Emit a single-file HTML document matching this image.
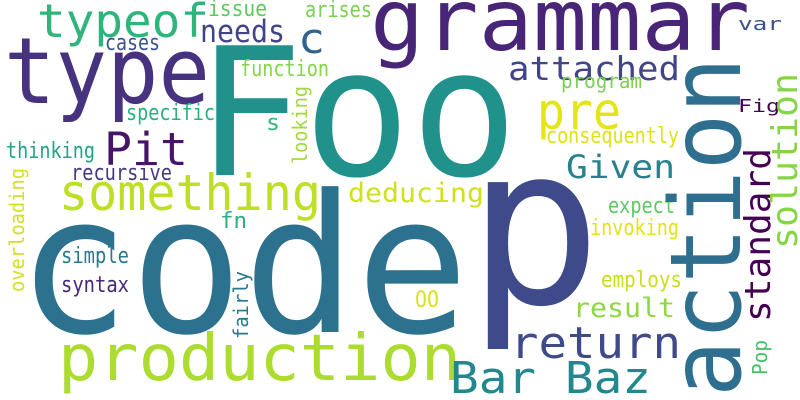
<!DOCTYPE html>
<html><head><meta charset="utf-8"><style>
html,body{margin:0;padding:0;background:#fff;}
svg{display:block;}
text{font-family:"DejaVu Sans Mono","Liberation Mono",monospace;}
</style></head><body>
<svg width="800" height="400" viewBox="0 0 800 400" xmlns="http://www.w3.org/2000/svg">
<rect width="800" height="400" fill="#fff"/>
<g>
<text x="4" y="103" font-size="92" fill="#46327e" textLength="206" lengthAdjust="spacingAndGlyphs">type</text>
<text x="37" y="37" font-size="46" fill="#2fb47c" textLength="172" lengthAdjust="spacingAndGlyphs">typeof</text>
<text x="370" y="50" font-size="86" fill="#482576" textLength="380" lengthAdjust="spacingAndGlyphs">grammar</text>
<text x="196" y="175" font-size="178" fill="#21918c" textLength="322" lengthAdjust="spacingAndGlyphs">Foo</text>
<text x="17" y="332" font-size="192" fill="#2c728e" textLength="452" lengthAdjust="spacingAndGlyphs">code</text>
<text x="467" y="303" font-size="221" fill="#3e4a89" textLength="135" lengthAdjust="spacingAndGlyphs">p</text>
<text x="58" y="380" font-size="64" fill="#addc30" textLength="403" lengthAdjust="spacingAndGlyphs">production</text>
<text x="59" y="210" font-size="50" fill="#bddf26" textLength="262" lengthAdjust="spacingAndGlyphs">something</text>
<text x="104" y="165" font-size="45" fill="#481467" textLength="84" lengthAdjust="spacingAndGlyphs">Pit</text>
<text x="200" y="42" font-size="31" fill="#414487" textLength="85" lengthAdjust="spacingAndGlyphs">needs</text>
<text x="298" y="53" font-size="42" fill="#33638d" textLength="27" lengthAdjust="spacingAndGlyphs">c</text>
<text x="208" y="16" font-size="22" fill="#5ec962" textLength="59" lengthAdjust="spacingAndGlyphs">issue</text>
<text x="305" y="17" font-size="22" fill="#7ad151" textLength="67" lengthAdjust="spacingAndGlyphs">arises</text>
<text x="105" y="50" font-size="22" fill="#3b528b" textLength="55" lengthAdjust="spacingAndGlyphs">cases</text>
<text x="240" y="76" font-size="22" fill="#86d549" textLength="89" lengthAdjust="spacingAndGlyphs">function</text>
<text x="126" y="120" font-size="22" fill="#2ab07f" textLength="89" lengthAdjust="spacingAndGlyphs">specific</text>
<text x="266" y="130" font-size="22" fill="#35b779" textLength="14" lengthAdjust="spacingAndGlyphs">s</text>
<text x="6" y="158" font-size="22" fill="#20a486" textLength="89" lengthAdjust="spacingAndGlyphs">thinking</text>
<text x="71" y="180" font-size="22" fill="#443983" textLength="101" lengthAdjust="spacingAndGlyphs">recursive</text>
<text x="220" y="228" font-size="22" fill="#2ab07f" textLength="27" lengthAdjust="spacingAndGlyphs">fn</text>
<text x="61" y="263" font-size="22" fill="#2a788e" textLength="68" lengthAdjust="spacingAndGlyphs">simple</text>
<text x="61" y="292" font-size="22" fill="#482878" textLength="68" lengthAdjust="spacingAndGlyphs">syntax</text>
<text x="348" y="202" font-size="27" fill="#d0e11c" textLength="136" lengthAdjust="spacingAndGlyphs">deducing</text>
<text x="415" y="307" font-size="22" fill="#d8e219" textLength="24" lengthAdjust="spacingAndGlyphs">OO</text>
<text x="508" y="80" font-size="33" fill="#414487" textLength="172" lengthAdjust="spacingAndGlyphs">attached</text>
<text x="561" y="88" font-size="20" fill="#7ad151" textLength="81" lengthAdjust="spacingAndGlyphs">program</text>
<text x="537" y="129" font-size="51" fill="#e5e419" textLength="84" lengthAdjust="spacingAndGlyphs">pre</text>
<text x="546" y="143" font-size="22" fill="#dde318" textLength="133" lengthAdjust="spacingAndGlyphs">consequently</text>
<text x="566" y="178" font-size="32" fill="#26828e" textLength="109" lengthAdjust="spacingAndGlyphs">Given</text>
<text x="738" y="30" font-size="18" fill="#3b528b" textLength="44" lengthAdjust="spacingAndGlyphs">var</text>
<text x="738" y="112" font-size="18" fill="#440154" textLength="42" lengthAdjust="spacingAndGlyphs">Fig</text>
<text x="608" y="213" font-size="22" fill="#5ec962" textLength="67" lengthAdjust="spacingAndGlyphs">expect</text>
<text x="590" y="235" font-size="22" fill="#e2e418" textLength="89" lengthAdjust="spacingAndGlyphs">invoking</text>
<text x="601" y="287" font-size="22" fill="#c8e020" textLength="81" lengthAdjust="spacingAndGlyphs">employs</text>
<text x="573" y="317" font-size="27" fill="#8fd744" textLength="102" lengthAdjust="spacingAndGlyphs">result</text>
<text x="510" y="358" font-size="44" fill="#3e4a89" textLength="171" lengthAdjust="spacingAndGlyphs">return</text>
<text x="450" y="393" font-size="44" fill="#23888e" textLength="201" lengthAdjust="spacingAndGlyphs">Bar Baz</text>
<text transform="translate(740,397) rotate(-90)" x="0" y="0" font-size="98" fill="#2e6e8e" textLength="340" lengthAdjust="spacingAndGlyphs">action</text>
<text transform="translate(770,322) rotate(-90)" x="0" y="0" font-size="36" fill="#440154" textLength="174" lengthAdjust="spacingAndGlyphs">standard</text>
<text transform="translate(797,249) rotate(-90)" x="0" y="0" font-size="36" fill="#86d549" textLength="176" lengthAdjust="spacingAndGlyphs">solution</text>
<text transform="translate(767,375) rotate(-90)" x="0" y="0" font-size="20" fill="#4ac16d" textLength="35" lengthAdjust="spacingAndGlyphs">Pop</text>
<text transform="translate(24,292) rotate(-90)" x="0" y="0" font-size="20" fill="#d2e21b" textLength="124" lengthAdjust="spacingAndGlyphs">overloading</text>
<text transform="translate(248,339) rotate(-90)" x="0" y="0" font-size="20" fill="#2a788e" textLength="68" lengthAdjust="spacingAndGlyphs">fairly</text>
<text transform="translate(307,164) rotate(-90)" x="0" y="0" font-size="20" fill="#a0da39" textLength="78" lengthAdjust="spacingAndGlyphs">looking</text>
</g>
</svg>
</body></html>
